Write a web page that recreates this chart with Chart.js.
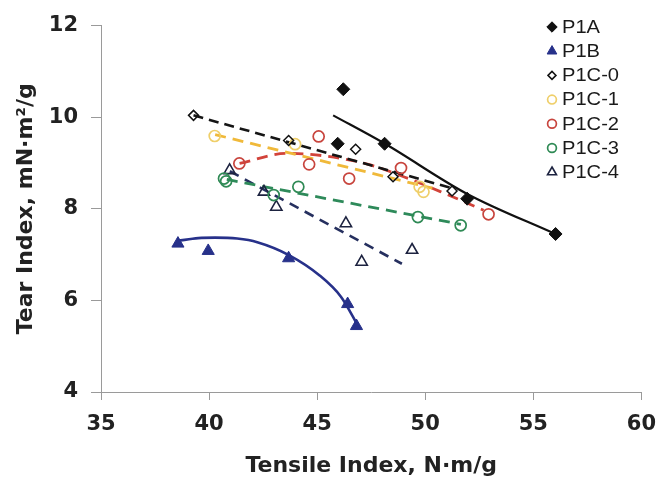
<!DOCTYPE html>
<html>
<head>
<meta charset="utf-8">
<script src="https://cdn.jsdelivr.net/npm/chart.js@4/dist/chart.umd.min.js"></script>
<style>
  html, body { margin: 0; padding: 0; background: #ffffff; }
  #wrap { width: 668px; height: 482px; position: relative; }
</style>
</head>
<body>
<div id="wrap"><canvas id="c" width="668" height="482"></canvas></div>
<script>
// ---- Data ----
const seriesNames = ['P1A', 'P1B', 'P1C-0', 'P1C-1', 'P1C-2', 'P1C-3', 'P1C-4'];
const xTicks = [35, 40, 45, 50, 55, 60];
const yTicks = [4, 6, 8, 10, 12];

// measured points (Tensile index, Tear index)
const p1aX  = [46.21, 45.95, 48.12, 51.94, 56.03];
const p1aY  = [10.61, 9.42, 9.42, 8.22, 7.45];
const p1bX  = [38.56, 39.96, 43.68, 46.41, 46.82];
const p1bY  = [7.24, 7.08, 6.92, 5.92, 5.44];
const p1c0X = [39.28, 43.68, 46.78, 48.51, 51.24];
const p1c0Y = [10.04, 9.49, 9.30, 8.70, 8.39];
const p1c1X = [40.26, 43.98, 49.74, 49.92];
const p1c1Y = [9.59, 9.41, 8.48, 8.37];
const p1c2X = [41.40, 44.63, 45.07, 46.48, 48.88, 52.93];
const p1c2Y = [8.99, 8.97, 9.58, 8.66, 8.89, 7.88];
const p1c3X = [40.69, 40.79, 42.99, 44.13, 49.66, 51.64];
const p1c3Y = [8.66, 8.60, 8.30, 8.48, 7.82, 7.64];
const p1c4X = [40.95, 42.54, 43.11, 46.33, 47.06, 49.39];
const p1c4Y = [8.84, 8.37, 8.04, 7.68, 6.84, 7.10];

// trend lines
const trendP1aX  = [45.74, 48.10, 51.92, 56.02];
const trendP1aY  = [10.04, 9.43, 8.33, 7.45];
const trendP1bX  = [38.55, 39.50, 40.28, 41.30, 42.23, 43.69, 45.10, 46.10, 46.92];
const trendP1bY  = [7.30, 7.36, 7.37, 7.35, 7.27, 6.99, 6.55, 6.08, 5.42];
const trendP1c0X = [39.28, 51.24];
const trendP1c0Y = [10.04, 8.45];
const trendP1c1X = [40.28, 50.33];
const trendP1c1Y = [9.62, 8.45];
const trendP1c2X = [41.41, 43.60, 45.42, 47.37, 49.06, 50.88, 52.70];
const trendP1c2Y = [8.99, 9.21, 9.15, 8.97, 8.69, 8.34, 7.97];
const trendP1c3X = [40.82, 51.65];
const trendP1c3Y = [8.64, 7.66];
const trendP1c4X = [40.96, 48.92];
const trendP1c4Y = [8.82, 6.80];

// ---- helpers ----
const pts = (xs, ys) => xs.map((x, i) => ({ x: x, y: ys[i] }));
const BOLD = '"DejaVu Sans", Verdana, sans-serif';
const LEG = '"Liberation Sans", Arial, Helvetica, sans-serif';

const markerStyles = [
  { style: 'rectRot',  r: 6.5, border: '#111111', fill: '#111111', bw: 1 },
  { style: 'triangle', r: 7,   border: '#27318a', fill: '#27318a', bw: 1 },
  { style: 'rectRot',  r: 5,   border: '#111111', fill: 'rgba(0,0,0,0)', bw: 1.5 },
  { style: 'circle',   r: 5.5, border: '#efcf6a', fill: 'rgba(0,0,0,0)', bw: 1.7 },
  { style: 'circle',   r: 5.5, border: '#c8453e', fill: 'rgba(0,0,0,0)', bw: 1.7 },
  { style: 'circle',   r: 5.5, border: '#2f8a55', fill: 'rgba(0,0,0,0)', bw: 1.7 },
  { style: 'triangle', r: 6.5, border: '#1d2340', fill: 'rgba(0,0,0,0)', bw: 1.6 }
];

const pointData = [
  pts(p1aX, p1aY), pts(p1bX, p1bY), pts(p1c0X, p1c0Y), pts(p1c1X, p1c1Y),
  pts(p1c2X, p1c2Y), pts(p1c3X, p1c3Y), pts(p1c4X, p1c4Y)
];

const pointDatasets = pointData.map((d, i) => ({
  label: seriesNames[i],
  data: d,
  showLine: false,
  pointStyle: markerStyles[i].style,
  pointRadius: markerStyles[i].r,
  pointBorderWidth: markerStyles[i].bw,
  pointBorderColor: markerStyles[i].border,
  pointBackgroundColor: markerStyles[i].fill
}));

const lineDef = (xs, ys, color, width, dash, curved) => ({
  label: '',
  data: pts(xs, ys),
  showLine: true,
  pointRadius: 0,
  borderColor: color,
  borderWidth: width,
  borderDash: dash,
  cubicInterpolationMode: curved ? 'monotone' : 'default',
  tension: curved ? 0.4 : 0,
  fill: false
});

const lineDatasets = [
  lineDef(trendP1aX,  trendP1aY,  '#111111', 2.2, [], true),
  lineDef(trendP1bX,  trendP1bY,  '#27318a', 2.6, [], true),
  lineDef(trendP1c0X, trendP1c0Y, '#151515', 2.6, [10, 6], false),
  lineDef(trendP1c1X, trendP1c1Y, '#f0b93a', 2.8, [11, 7], false),
  lineDef(trendP1c2X, trendP1c2Y, '#d2433a', 2.8, [11, 7], true),
  lineDef(trendP1c3X, trendP1c3Y, '#2e8a5a', 2.8, [11, 7], false),
  lineDef(trendP1c4X, trendP1c4Y, '#26305f', 2.6, [10, 7], false)
];

const legendPlugin = {
  id: 'insideLegend',
  afterDraw(chart) {
    const ctx = chart.ctx;
    seriesNames.forEach((name, i) => {
      const y = 27 + i * 24.2;
      const m = markerStyles[i];
      ctx.save();
      ctx.fillStyle = m.fill;
      ctx.strokeStyle = m.border;
      ctx.lineWidth = m.bw;
      Chart.helpers.drawPoint(ctx, { pointStyle: m.style, radius: m.r * 0.8, borderWidth: m.bw, rotation: 0 }, 552, y);
      ctx.restore();
      ctx.save();
      ctx.fillStyle = '#1a1a1a';
      ctx.font = '17.5px ' + LEG;
      ctx.textAlign = 'left';
      ctx.textBaseline = 'middle';
      ctx.translate(562, y + 1);
      ctx.scale(1.15, 1);
      ctx.fillText(name, 0, 0);
      ctx.restore();
    });
  }
};

new Chart(document.getElementById('c'), {
  type: 'scatter',
  data: { datasets: pointDatasets.concat(lineDatasets) },
  plugins: [legendPlugin],
  options: {
    responsive: false,
    animation: false,
    devicePixelRatio: 1,
    layout: { padding: { top: 25, right: 17, bottom: 0, left: 0 } },
    plugins: { legend: { display: false }, tooltip: { enabled: false } },
    scales: {
      x: {
        type: 'linear',
        min: 35, max: 60,
        afterBuildTicks: (s) => { s.ticks = xTicks.map(v => ({ value: v })); },
        afterFit: (s) => { s.height = 90; },
        grid: { drawOnChartArea: false, tickLength: 8, color: '#9a9a9a', lineWidth: 1 },
        border: { color: '#9a9a9a', width: 1 },
        ticks: { color: '#222222', padding: 12, font: { family: BOLD, size: 21, weight: 'bold' } },
        title: { display: true, text: 'Tensile Index, N·m/g', color: '#222222',
                 padding: { top: 0, bottom: 3 }, font: { family: BOLD, size: 22, weight: 'bold' } }
      },
      y: {
        type: 'linear',
        min: 4, max: 12,
        afterBuildTicks: (s) => { s.ticks = yTicks.map(v => ({ value: v })); },
        afterFit: (s) => { s.width = 101; },
        grid: { drawOnChartArea: false, tickLength: 10, color: '#9a9a9a', lineWidth: 1 },
        border: { color: '#9a9a9a', width: 1 },
        ticks: { color: '#222222', padding: 13, font: { family: BOLD, size: 21, weight: 'bold' } },
        title: { display: true, text: 'Tear Index, mN·m²/g', color: '#222222',
                 padding: { top: 13, bottom: 0 }, font: { family: BOLD, size: 22, weight: 'bold' } }
      }
    }
  }
});
</script>
</body>
</html>
